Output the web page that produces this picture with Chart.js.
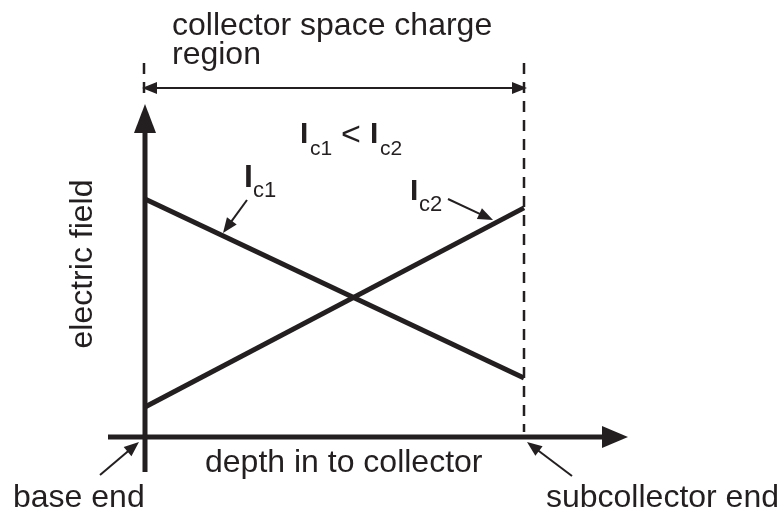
<!DOCTYPE html>
<html>
<head>
<meta charset="utf-8">
<script src="https://cdn.jsdelivr.net/npm/chart.js@4"></script>
<style>
  html, body { margin: 0; padding: 0; background: #fff; }
  #wrap { width: 782px; height: 512px; }
</style>
</head>
<body>
<div id="wrap"><canvas id="chart" width="782" height="512"></canvas></div>
<script>
// depth runs from base end (0) to subcollector end (1)
const depth = [0, 1];
const fieldIc1 = [0.715, 0.177];
const fieldIc2 = [0.09, 0.688];
const seriesNames = ['Ic1', 'Ic2'];

const ink = '#231f20';
const FONT = '"Liberation Sans", Arial, sans-serif';

function arrowHead(ctx, x1, y1, x2, y2, len, half) {
    // filled head pointing at (x2, y2)
    const a = Math.atan2(y2 - y1, x2 - x1);
    const bx = x2 - len * Math.cos(a), by = y2 - len * Math.sin(a);
    ctx.beginPath();
    ctx.moveTo(x2, y2);
    ctx.lineTo(bx + half * Math.sin(a), by - half * Math.cos(a));
    ctx.lineTo(bx - half * Math.sin(a), by + half * Math.cos(a));
    ctx.closePath();
    ctx.fill();
}

function arrow(ctx, x1, y1, x2, y2, w, len, half) {
    const a = Math.atan2(y2 - y1, x2 - x1);
    ctx.lineWidth = w;
    ctx.beginPath();
    ctx.moveTo(x1, y1);
    ctx.lineTo(x2 - (len - 1) * Math.cos(a), y2 - (len - 1) * Math.sin(a));
    ctx.stroke();
    arrowHead(ctx, x1, y1, x2, y2, len, half);
}

function label(ctx, text, x, y, size, bold) {
    ctx.font = (bold ? 'bold ' : '') + size + 'px ' + FONT;
    ctx.fillText(text, x, y);
}

const diagram = {
    id: 'diagram',
    afterDatasetsDraw(chart) {
        const ctx = chart.ctx;
        const xs = chart.scales.x, ys = chart.scales.y;
        const x0 = xs.getPixelForValue(depth[0]);
        const x1 = xs.getPixelForValue(depth[1]);
        const y0 = ys.getPixelForValue(0);
        const yTop = ys.getPixelForValue(1);

        ctx.save();
        ctx.strokeStyle = ink;
        ctx.fillStyle = ink;
        ctx.lineCap = 'butt';

        // dashed boundaries of the space charge region
        ctx.setLineDash([11, 8]);
        ctx.lineWidth = 2.5;
        ctx.beginPath();
        ctx.moveTo(x0 - 1, 63);
        ctx.lineTo(x0 - 1, yTop - 4);
        ctx.moveTo(x1, 63);
        ctx.lineTo(x1, y0 - 5);
        ctx.stroke();
        ctx.setLineDash([]);

        // double headed arrow
        ctx.lineWidth = 2;
        ctx.beginPath();
        ctx.moveTo(x0 + 10, 88);
        ctx.lineTo(x1 - 10, 88);
        ctx.stroke();
        arrowHead(ctx, x1, 88, x0 - 3, 88, 15, 6);
        arrowHead(ctx, x0, 88, x1 + 3, 88, 15, 6);

        // axes
        arrow(ctx, x0, 472, x0, yTop, 5, 29, 11);
        arrow(ctx, 108, y0, 628, y0, 5, 26, 11);

        // pointer arrows
        arrow(ctx, 247, 200, 223, 233, 2, 15, 6);
        arrow(ctx, 448, 199, 493, 220, 2, 15, 6);
        arrow(ctx, 100, 475, x0 - 6, y0 + 5, 2, 15, 6);
        arrow(ctx, 572, 476, x1 + 3, y0 + 5, 2, 15, 6);

        // text
        ctx.textBaseline = 'alphabetic';
        ctx.textAlign = 'left';
        label(ctx, 'collector space charge', 172, 35, 32);
        label(ctx, 'region', 172, 64, 32);

        label(ctx, 'I', 300, 143, 30, true);
        label(ctx, 'c1', 310, 155, 21);
        label(ctx, '<', 341, 145, 34);
        label(ctx, 'I', 370, 143, 30, true);
        label(ctx, 'c2', 380, 155, 21);

        label(ctx, 'I', 244, 187, 32, true);
        label(ctx, 'c1', 253, 197, 22);
        label(ctx, 'I', 410, 200, 30, true);
        label(ctx, 'c2', 419, 211, 22);

        label(ctx, 'depth in to collector', 205, 472, 32);
        label(ctx, 'base end', 13, 507, 32);
        ctx.textAlign = 'right';
        label(ctx, 'subcollector end', 779, 507, 32);

        ctx.save();
        ctx.translate(92, 264);
        ctx.rotate(-Math.PI / 2);
        ctx.textAlign = 'center';
        label(ctx, 'electric field', 0, 0, 32);
        ctx.restore();

        ctx.restore();
    }
};

function pts(ys) {
    return depth.map((d, i) => ({ x: d, y: ys[i] }));
}

new Chart(document.getElementById('chart'), {
    type: 'scatter',
    data: {
        datasets: [
            { label: seriesNames[0], data: pts(fieldIc1) },
            { label: seriesNames[1], data: pts(fieldIc2) }
        ].map(ds => Object.assign(ds, {
            showLine: true,
            borderColor: ink,
            backgroundColor: ink,
            borderWidth: 5,
            pointRadius: 0,
            pointHoverRadius: 0
        }))
    },
    options: {
        responsive: false,
        animation: false,
        events: [],
        layout: { padding: 0 },
        plugins: { legend: { display: false }, tooltip: { enabled: false } },
        scales: {
            x: { type: 'linear', display: false, min: -0.38259, max: 1.68074 },
            y: { type: 'linear', display: false, min: -0.22523, max: 1.31231 }
        }
    },
    plugins: [diagram]
});
</script>
</body>
</html>
